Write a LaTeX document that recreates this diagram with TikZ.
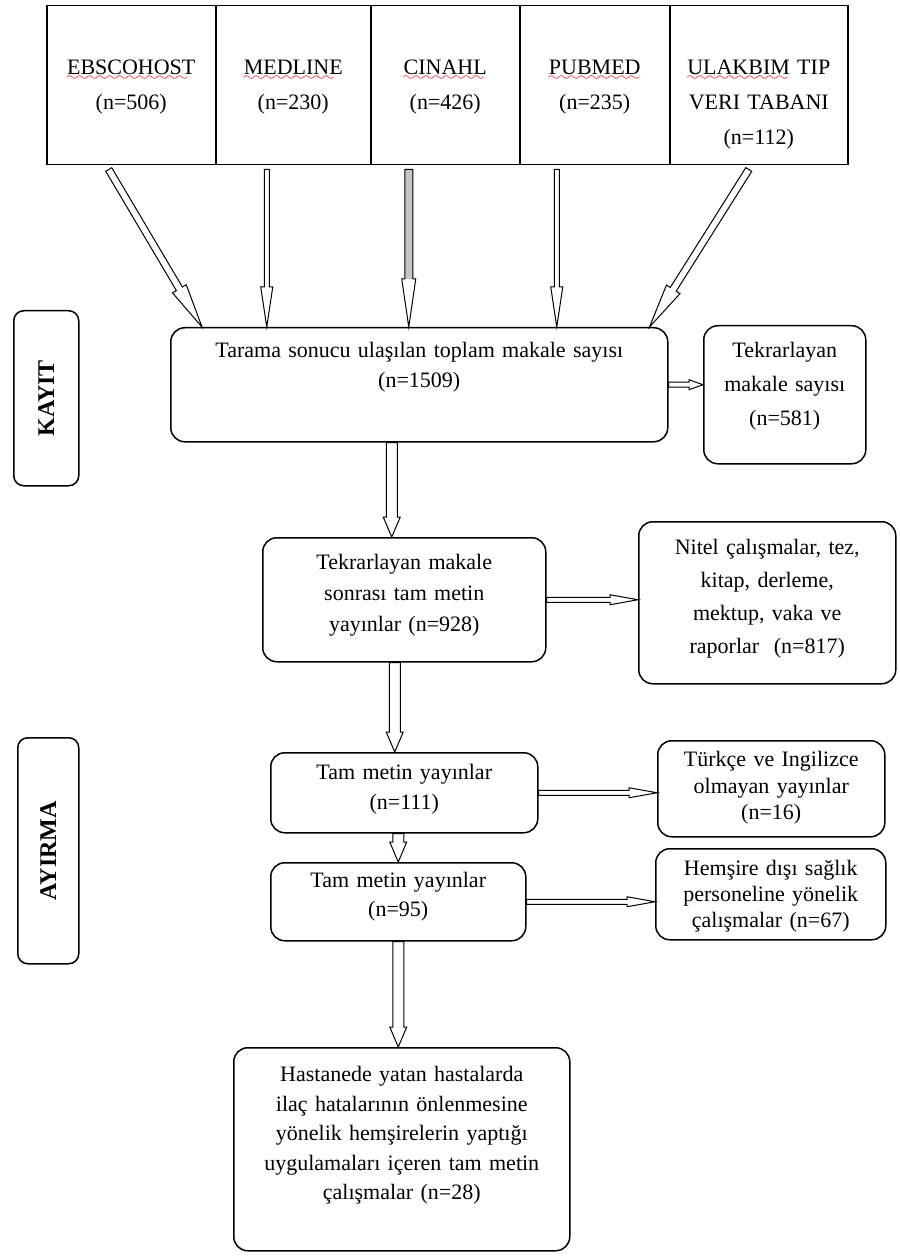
\documentclass[tikz,border=0pt]{standalone}
\usepackage{fontspec}
\setmainfont{Liberation Serif}
\usepackage{tikz}
\usetikzlibrary{calc}

% red wavy spell-check mark under a word
\font\wavefont=lasy6
\newcommand\redwave[1]{\setbox0\hbox{#1}%
  \rlap{\raisebox{-3pt}[0pt][0pt]{\textcolor{red}{\hbox to \wd0{\leaders\hbox{\wavefont\char58}\hfill}}}}#1}
\newcommand\boxfont[1]{\fontsize{11}{#1}\selectfont}

\tikzset{
  cell/.style={draw, line width=0.75pt, inner sep=0pt, align=center, anchor=north west},
  box/.style={cell, rounded corners=7pt},
  side/.style={draw, line width=0.75pt, rounded corners=5pt, inner sep=0pt, anchor=north west,
    font=\fontsize{12}{14}\selectfont\bfseries},
  % hollow block arrow: shaft half width, head half width, head length, fill
  blk/.style n args={4}{draw=black, fill=#4, line width=0.5pt,
    to path={let \p1=(\tikztostart), \p2=(\tikztotarget),
      \n1={atan2(\y2-\y1,\x2-\x1)}, \n2={veclen(\x2-\x1,\y2-\y1)} in
      ($(\p1)+(\n1+90:#1)$) -- ($(\p1)+(\n1:\n2*1pt-#3)+(\n1+90:#1)$)
      -- ($(\p1)+(\n1:\n2*1pt-#3)+(\n1+90:#2)$) -- (\p2)
      -- ($(\p1)+(\n1:\n2*1pt-#3)+(\n1-90:#2)$)
      -- ($(\p1)+(\n1:\n2*1pt-#3)+(\n1-90:#1)$)
      -- ($(\p1)+(\n1-90:#1)$) -- cycle}},
  toparr/.style={blk={1.25pt}{3pt}{20pt}{white}},
  diagarr/.style={blk={1.75pt}{4pt}{22pt}{white}},
  downarr/.style={blk={2.75pt}{4.25pt}{10pt}{white}},
  sidearr/.style={blk={1.25pt}{2.5pt}{14pt}{white}},
  greyshaft/.style={path picture={\fill[gray!45] (path picture bounding box.north west)
    rectangle ($(path picture bounding box.south east)+(0,#1)$);}},
}

\begin{document}
\begin{tikzpicture}[x=0.5pt, y=-0.5pt, font=\boxfont{15pt}]
    \useasboundingbox (0,0) rectangle (899,1256);

    % Databases
    \node[cell, text width=84.5pt, text height=34.5pt, text depth=45pt, font=\boxfont{17.5pt}]
        (ebsco) at (46,5) {\redwave{EBSCOHOST}\\(n=506)};
    \node[cell, text width=77.5pt, text height=34.5pt, text depth=45pt, font=\boxfont{17.5pt}]
        (medline) at (215,5) {\redwave{MEDLINE}\\(n=230)};
    \node[cell, text width=74.5pt, text height=34.5pt, text depth=45pt, font=\boxfont{17.5pt}]
        (cinahl) at (370,5) {\redwave{CINAHL}\\(n=426)};
    \node[cell, text width=75pt, text height=34.5pt, text depth=45pt, font=\boxfont{17.5pt}]
        (pubmed) at (519,5) {\redwave{PUBMED}\\(n=235)};
    \node[cell, text width=89pt, text height=34.5pt, text depth=45pt, font=\boxfont{17.5pt}]
        (ulakbim) at (669,5) {\redwave{ULAKBIM} TIP\\VERI TABANI\\(n=112)};

    % Phase labels
    \node[side, minimum width=32.5pt, minimum height=87.5pt] (kayit) at (13,310) {\rotatebox{90}{KAYIT}};
    \node[side, minimum width=30.5pt, minimum height=113pt] (ayirma) at (17,737) {\rotatebox{90}{AYIRMA}};

    % Flow boxes
    \node[box, text width=248.5pt, text height=15pt, text depth=42pt] (tarama) at (170,327)
        {Tarama sonucu ulaşılan toplam makale sayısı\\(n=1509)};
    \node[box, text width=81pt, text height=16pt, text depth=53pt, font=\boxfont{17pt}] (tekrar) at (703,325)
        {Tekrarlayan\\makale sayısı\\(n=581)};
    \node[box, text width=141.5pt, text height=16pt, text depth=46pt, font=\boxfont{15.5pt}] (b928) at (262,537)
        {Tekrarlayan makale\\sonrası tam metin\\yayınlar (n=928)};
    \node[box, text width=128.5pt, text height=16.5pt, text depth=64.5pt, font=\boxfont{16.5pt}] (nitel) at (638,521)
        {Nitel çalışmalar, tez,\\kitap, derleme,\\mektup, vaka ve\\raporlar~ (n=817)};
    \node[box, text width=133.5pt, text height=13.5pt, text depth=26.5pt] (b111) at (270,752)
        {Tam metin yayınlar\\(n=111)};
    \node[box, text width=113.5pt, text height=13pt, text depth=35pt, font=\boxfont{13.25pt}] (turkce) at (657,740)
        {Türkçe ve Ingilizce\\olmayan yayınlar\\(n=16)};
    \node[box, text width=127.5pt, text height=12.5pt, text depth=26.5pt, font=\boxfont{14.5pt}] (b95) at (270,862)
        {Tam metin yayınlar\\(n=95)};
    \node[box, text width=115pt, text height=13.5pt, text depth=32pt, font=\boxfont{13pt}] (hemsire) at (655,848)
        {Hemşire dışı sağlık\\personeline yönelik\\çalışmalar (n=67)};
    \node[box, text width=168pt, text height=17pt, text depth=84.5pt, font=\boxfont{14.75pt}] (sonuc) at (233,1047)
        {Hastanede yatan hastalarda\\ilaç hatalarının önlenmesine\\yönelik hemşirelerin yaptığı\\uygulamaları içeren tam metin\\çalışmalar (n=28)};

    % Arrows from the databases
    \coordinate (src1) at ($(ebsco.south)+(-22.5,4)$);
    \coordinate (src2) at ($(medline.south)+(-26.5,4)$);
    \coordinate (src3) at ($(cinahl.south)+(-36.5,4)$);
    \coordinate (src4) at ($(pubmed.south)+(-38,4)$);
    \coordinate (src5) at ($(ulakbim.south)+(-10,4)$);
    \draw[diagarr] (src1) to ($(tarama.north west)+(32,0)$);
    \draw[toparr] (src2) to (tarama.north -| src2);
    \draw[blk={2pt}{3.5pt}{24pt}{white}, greyshaft=24pt] (src3) to (tarama.north -| src3);
    \draw[toparr] (src4) to (tarama.north -| src4);
    \draw[diagarr] (src5) to ($(tarama.north east)+(-19,0)$);

    % Main flow
    \coordinate (in928) at ([xshift=-6.25pt]b928.north);
    \coordinate (in111) at ([xshift=-4.75pt]b111.north);
    \draw[downarr] (tarama.south -| in928) to (in928);
    \draw[downarr] (b928.south -| in111) to (in111);
    \draw[downarr] (b111.south -| b95.north) to (b95.north);
    \draw[downarr] (b95.south) to (b95.south |- sonuc.north);

    % Excluded records
    \draw[blk={1.25pt}{2.5pt}{7pt}{white}] (tarama.east) to (tarama.east -| tekrar.west);
    \draw[sidearr] (b928.east) to (b928.east -| nitel.west);
    \draw[sidearr] (b111.east) to (b111.east -| turkce.west);
    \draw[sidearr] (b95.east) to (b95.east -| hemsire.west);
\end{tikzpicture}
\end{document}
